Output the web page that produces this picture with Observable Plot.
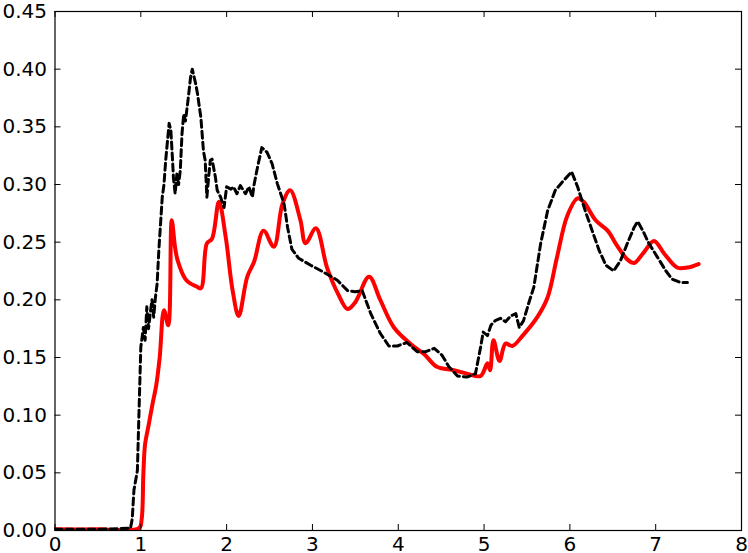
<!DOCTYPE html>
<html><head><meta charset="utf-8">
<script src="https://cdn.jsdelivr.net/npm/d3@7"></script>
<script src="https://cdn.jsdelivr.net/npm/@observablehq/plot@0.6"></script>
<style>body{margin:0;background:#fff}</style>
</head><body><div id="chart"></div>
<script>
const xTicks = [0,1,2,3,4,5,6,7,8];
const yTicks = [0,0.05,0.10,0.15,0.20,0.25,0.30,0.35,0.40,0.45];

// red solid series [x, y]
const redSeries = [
[0,0.001],[0.5,0.001],[0.98,0.002],[1.01,0.010],[1.03,0.050],[1.05,0.075],[1.09,0.091],[1.14,0.111],
[1.18,0.126],[1.22,0.150],[1.27,0.191],[1.32,0.178],[1.36,0.269],[1.40,0.245],[1.43,0.234],[1.52,0.218],
[1.58,0.214],[1.64,0.212],[1.70,0.210],[1.77,0.249],[1.83,0.253],[1.91,0.285],[1.99,0.254],[2.07,0.208],
[2.14,0.186],[2.24,0.220],[2.32,0.233],[2.43,0.260],[2.55,0.246],[2.65,0.283],[2.74,0.295],[2.86,0.269],
[2.92,0.249],[3.04,0.262],[3.17,0.228],[3.30,0.205],[3.41,0.192],[3.50,0.198],[3.66,0.220],[3.79,0.200],
[3.95,0.176],[4.14,0.162],[4.30,0.153],[4.45,0.142],[4.65,0.139],[4.80,0.136],[4.96,0.134],[5.04,0.145],
[5.07,0.139],[5.11,0.165],[5.18,0.147],[5.25,0.162],[5.33,0.160],[5.45,0.169],[5.62,0.185],[5.74,0.202],
[5.85,0.237],[5.97,0.273],[6.09,0.288],[6.16,0.285],[6.30,0.269],[6.44,0.260],[6.55,0.247],[6.67,0.235],
[6.75,0.232],[6.86,0.241],[6.98,0.251],[7.10,0.240],[7.25,0.228],[7.37,0.228],[7.50,0.231]
];

// black dashed series [x, y]
const blackSeries = [
[0,0.001],[0.5,0.001],[0.88,0.002],[0.90,0.010],[0.92,0.035],[0.96,0.052],[1.00,0.159],[1.03,0.176],
[1.05,0.165],[1.07,0.194],[1.09,0.175],[1.11,0.188],[1.13,0.200],[1.15,0.185],[1.17,0.202],[1.19,0.214],[1.21,0.243],[1.25,0.289],[1.27,0.300],[1.29,0.321],
[1.33,0.353],[1.35,0.347],[1.37,0.321],[1.38,0.306],[1.40,0.292],[1.42,0.309],[1.44,0.300],[1.46,0.312],
[1.48,0.344],[1.50,0.361],[1.52,0.355],[1.55,0.373],[1.58,0.393],[1.60,0.400],[1.64,0.387],[1.66,0.379],
[1.70,0.358],[1.73,0.329],[1.75,0.321],[1.77,0.289],[1.79,0.306],[1.81,0.321],[1.83,0.322],[1.87,0.306],
[1.89,0.295],[1.93,0.289],[1.97,0.280],[2.00,0.298],[2.05,0.296],[2.08,0.298],[2.12,0.292],[2.16,0.299],
[2.22,0.292],[2.26,0.298],[2.30,0.289],[2.32,0.300],[2.36,0.315],[2.41,0.332],[2.47,0.328],[2.53,0.318],
[2.59,0.301],[2.67,0.283],[2.71,0.263],[2.76,0.244],[2.84,0.236],[2.98,0.230],[3.13,0.224],[3.29,0.217],
[3.41,0.208],[3.50,0.207],[3.58,0.208],[3.68,0.188],[3.79,0.171],[3.89,0.160],[3.99,0.160],[4.10,0.163],
[4.22,0.155],[4.32,0.155],[4.42,0.158],[4.51,0.152],[4.59,0.142],[4.69,0.134],[4.80,0.133],[4.90,0.136],
[4.96,0.159],[4.99,0.172],[5.04,0.169],[5.08,0.178],[5.13,0.182],[5.19,0.184],[5.25,0.181],[5.31,0.186],
[5.37,0.188],[5.41,0.176],[5.46,0.182],[5.52,0.197],[5.58,0.211],[5.66,0.249],[5.74,0.277],[5.83,0.295],
[5.91,0.302],[6.02,0.311],[6.09,0.298],[6.18,0.277],[6.26,0.260],[6.34,0.243],[6.42,0.230],[6.51,0.225],
[6.59,0.234],[6.67,0.249],[6.75,0.263],[6.79,0.268],[6.85,0.260],[6.92,0.249],[7.02,0.237],[7.12,0.225],
[7.19,0.218],[7.29,0.215],[7.37,0.215]
];

const W = 748, H = 553, mL = 54.5, mR = 7, mT = 11, mB = 23, tick = 6;
const innerW = W - mL - mR, innerH = H - mT - mB;

const chart = Plot.plot({
  width: W, height: H,
  marginLeft: mL, marginRight: mR, marginTop: mT, marginBottom: mB,
  style: {fontFamily: "DejaVu Sans", fontSize: "20px", background: "white", color: "black", overflow: "visible"},
  x: {domain: [0, 8]},
  y: {domain: [0, 0.45]},
  marks: [
    Plot.line(redSeries, {x: d => d[0], y: d => d[1], stroke: "red", strokeWidth: 4, curve: "catmull-rom", clip: true}),
    Plot.line(blackSeries, {x: d => d[0], y: d => d[1], stroke: "black", strokeWidth: 3, strokeDasharray: "7,4", clip: true}),
    Plot.tickX(xTicks, {x: d => d, stroke: "black", insetTop: innerH - tick}),
    Plot.tickX(xTicks, {x: d => d, stroke: "black", insetBottom: innerH - tick}),
    Plot.tickY(yTicks, {y: d => d, stroke: "black", insetRight: innerW - tick}),
    Plot.tickY(yTicks, {y: d => d, stroke: "black", insetLeft: innerW - tick}),
    Plot.frame({stroke: "black", strokeWidth: 1.2}),
    Plot.axisX({ticks: xTicks, anchor: "bottom", tickSize: 0, tickPadding: 6, label: null, tickFormat: d => String(d)}),
    Plot.axisY({ticks: yTicks, anchor: "left", tickSize: 0, tickPadding: 8, label: null, tickFormat: d3.format(".2f")})
  ]
});
document.getElementById("chart").appendChild(chart);
</script>
</body></html>
